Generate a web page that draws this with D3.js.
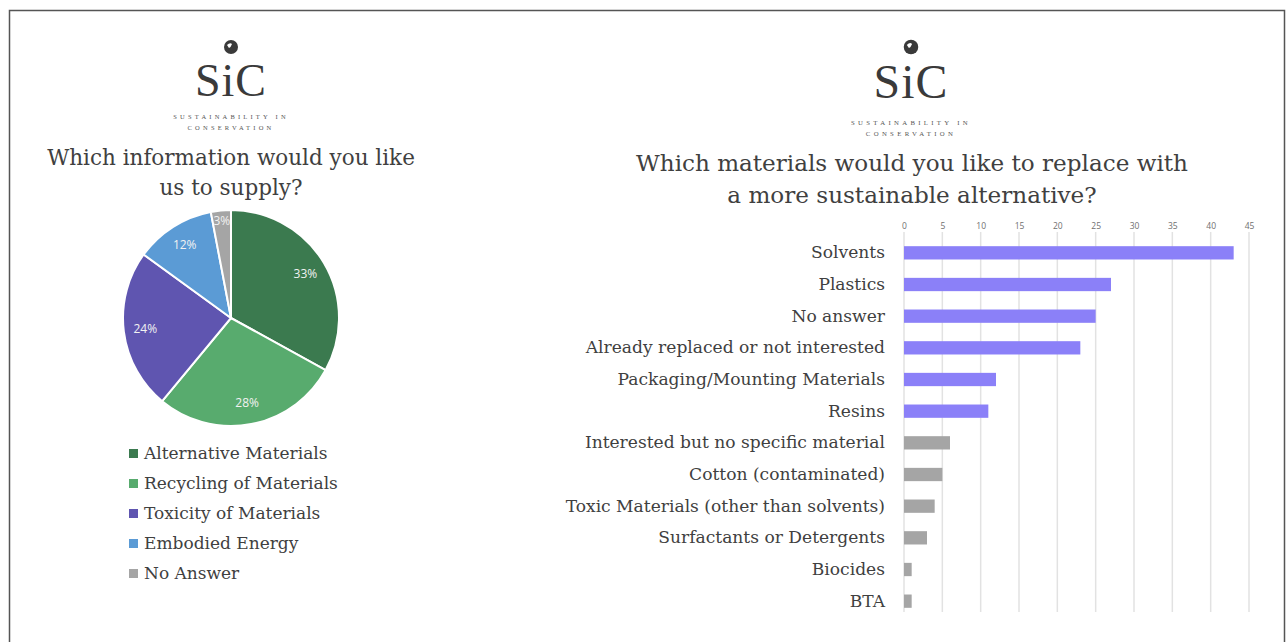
<!DOCTYPE html>
<html>
<head>
<meta charset="utf-8">
<script src="https://cdn.jsdelivr.net/npm/d3@7"></script>
<style>
body{margin:0;background:#fff;}
svg{display:block;}
</style>
</head>
<body>
<div id="chart"></div>
<script>
// pie data
var pieLabels = ["Alternative Materials","Recycling of Materials","Toxicity of Materials","Embodied Energy","No Answer"];
var pieValues = [33,28,24,12,3];
var pieColors = ["#3b7a4f","#58ab6e","#5f55b0","#5b9bd5","#a5a5a5"];

// bar data
var barLabels = ["Solvents","Plastics","No answer","Already replaced or not interested","Packaging/Mounting Materials","Resins",
  "Interested but no specific material","Cotton (contaminated)","Toxic Materials (other than solvents)","Surfactants or Detergents","Biocides","BTA"];
var barValues = [43,27,25,23,12,11,6,5,4,3,1,1];
var barGroup  = [1,1,1,1,1,1,0,0,0,0,0,0];
var xTicks = [0,5,10,15,20,25,30,35,40,45];

var W=1286,H=642;
var serif="'DejaVu Serif','Liberation Serif',serif";
var txt="#404040";

var svg=d3.select("#chart").append("svg").attr("width",W).attr("height",H);

// frame
svg.append("path").attr("d","M9.5,642V10.5H1284.5V642").attr("fill","none").attr("stroke","#555").attr("stroke-width",1.5);

function logo(cx,y0,s,sub)
{
	var g=svg.append("g").attr("transform","translate("+cx+","+y0+")");
	g.append("circle").attr("cx",0).attr("cy",0).attr("r",7*s).attr("fill","#3a3a3a");
	g.append("path").attr("d","M"+(-4*s)+","+(-2*s)+"q"+(3*s)+","+(-3*s)+" "+(5*s)+","+(-1*s)+"q"+(-1*s)+","+(3*s)+" "+(-3*s)+","+(4*s)+"z").attr("fill","#fff");
	g.append("text").attr("x",0).attr("y",49*s).attr("text-anchor","middle")
		.attr("font-family","'Liberation Serif',serif").attr("font-size",46*s).attr("fill","#3a3a3a").attr("letter-spacing",1*s).text("SiC");
	g.append("text").attr("x",0).attr("y",sub).attr("text-anchor","middle")
		.attr("font-family","'Liberation Serif',serif").attr("font-size",6.5*s).attr("fill","#555").attr("letter-spacing",3.2*s).text("SUSTAINABILITY IN");
	g.append("text").attr("x",0).attr("y",sub+11*s).attr("text-anchor","middle")
		.attr("font-family","'Liberation Serif',serif").attr("font-size",6.5*s).attr("fill","#555").attr("letter-spacing",3.2*s).text("CONSERVATION");
}
logo(231,47,1,72);
logo(911,47,1.04,78);

// ---- pie ----
var pieTitle=["Which information would you like","us to supply?"];
svg.selectAll(".pt").data(pieTitle).enter().append("text")
	.attr("x",231).attr("y",function(d,i){return 165+i*30})
	.attr("text-anchor","middle").attr("font-family",serif).attr("font-size",21.5).attr("fill",txt).text(function(d){return d});

var pieG=svg.append("g").attr("transform","translate(231,318)");
var r=108;
var pie=d3.pie().sort(null).value(function(d){return d});
var arc=d3.arc().innerRadius(0).outerRadius(r);
var arcs=pie(pieValues);
pieG.selectAll("path").data(arcs).enter().append("path")
	.attr("d",arc).attr("fill",function(d,i){return pieColors[i]})
	.attr("stroke","#fff").attr("stroke-width",2);
var labArc=d3.arc().innerRadius(r*0.8).outerRadius(r*0.8);
pieG.selectAll(".pl").data(arcs).enter().append("text")
	.attr("transform",function(d,i){var c=labArc.centroid(d); if(i==4){c=d3.arc().innerRadius(r*0.9).outerRadius(r*0.9).centroid(d)} return "translate("+c+")"})
	.attr("text-anchor","middle").attr("dy","0.35em")
	.attr("font-family","'Open Sans',sans-serif").attr("font-size",12).attr("fill","#f2f2f2")
	.text(function(d){return d.data+"%"});

var leg=svg.append("g").attr("transform","translate(129,453)");
var li=leg.selectAll("g").data(pieLabels).enter().append("g").attr("transform",function(d,i){return "translate(0,"+(i*30)+")"});
li.append("rect").attr("x",0).attr("y",-4).attr("width",9).attr("height",9).attr("fill",function(d,i){return pieColors[i]});
li.append("text").attr("x",15).attr("y",0).attr("dy","0.35em").attr("font-family",serif).attr("font-size",17).attr("fill",txt).text(function(d){return d});

// ---- bars ----
var barTitle=["Which materials would you like to replace with","a more sustainable alternative?"];
svg.selectAll(".bt").data(barTitle).enter().append("text")
	.attr("x",912).attr("y",function(d,i){return 171+i*32})
	.attr("text-anchor","middle").attr("font-family",serif).attr("font-size",23.1).attr("fill",txt).text(function(d){return d});

var x=d3.scaleLinear().domain([0,45]).range([904,1249]);
var y=d3.scaleBand().domain(barLabels).range([237,617]).paddingInner(0.58).paddingOuter(0.29);

svg.selectAll(".grid").data(xTicks).enter().append("line")
	.attr("x1",function(d){return x(d)}).attr("x2",function(d){return x(d)})
	.attr("y1",232).attr("y2",612).attr("stroke","#e2e2e2").attr("stroke-width",1.5);

var xAxis=d3.axisTop(x).tickValues(xTicks).tickSize(0).tickPadding(0);
var xg=svg.append("g").attr("transform","translate(0,229)").call(xAxis);
xg.select(".domain").remove();
xg.selectAll("text").attr("font-family","'Open Sans',sans-serif").attr("font-size",8.5).attr("fill","#707070");

svg.selectAll(".bar").data(barValues).enter().append("rect")
	.attr("x",x(0)).attr("y",function(d,i){return y(barLabels[i])})
	.attr("width",function(d){return x(d)-x(0)}).attr("height",y.bandwidth())
	.attr("fill",function(d,i){return barGroup[i]?"#8b80f8":"#a5a5a5"});

var yAxis=d3.axisLeft(y).tickSize(0).tickPadding(19);
var yg=svg.append("g").attr("transform","translate(904,0)").call(yAxis);
yg.select(".domain").remove();
yg.selectAll("text").attr("font-family",serif).attr("font-size",17.1).attr("fill",txt);
</script>
</body>
</html>
